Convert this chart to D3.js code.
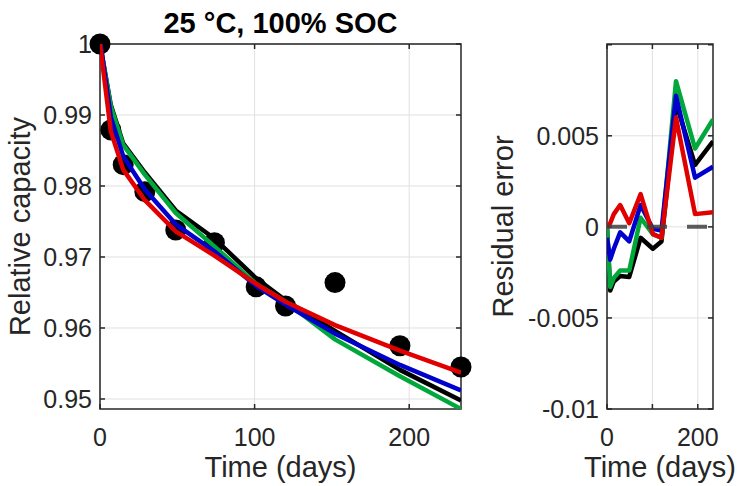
<!DOCTYPE html>
<html>
<head>
<meta charset="utf-8">
<title>25 °C, 100% SOC</title>
<script src="https://cdn.jsdelivr.net/npm/d3@7"></script>
<style>
  body { margin: 0; background: #fff; }
  svg text { font-family: "Liberation Sans", Arial, sans-serif; fill: #262626; }
</style>
</head>
<body>
<div id="chart"></div>
<script>
// measurement days and relative capacity
const days = [0, 7, 15, 29, 49, 74, 101, 120, 152, 194, 233.5];
const measured = [1.0, 0.9879, 0.9830, 0.9792, 0.9738, 0.9720, 0.9658, 0.9631, 0.9664, 0.9575, 0.9545];

// model fits (left panel)
const fitBlack = [1.0, 0.9914, 0.9860, 0.9819, 0.97655, 0.9726, 0.9670, 0.9639, 0.9596, 0.9541, 0.9498];
const fitGreen = [1.0, 0.9912, 0.9858, 0.9816, 0.9762, 0.9715, 0.9662, 0.9637, 0.9584, 0.9532, 0.9486];
const fitBlue  = [1.0006, 0.9897, 0.9842, 0.9795, 0.9746, 0.9708, 0.9659, 0.9633, 0.9592, 0.9548, 0.9512];
const fitRed   = [1.0, 0.9877, 0.9823, 0.9780, 0.9736, 0.9702, 0.9662, 0.9637, 0.9604, 0.9568, 0.9537];

// residuals (right panel)
const resBlack = [0, -0.0035, -0.0030, -0.0027, -0.00275, -0.0006, -0.0012, -0.0008, 0.0068, 0.0034, 0.0047];
const resGreen = [0, -0.0033, -0.0028, -0.0024, -0.0024, 0.0005, -0.0004, -0.0006, 0.0080, 0.0043, 0.0059];
const resBlue  = [-0.0006, -0.0018, -0.0012, -0.0003, -0.0008, 0.0012, -0.0001, -0.0002, 0.0072, 0.0027, 0.0033];
const resRed   = [0, 0.0002, 0.0007, 0.0012, 0.0002, 0.0018, -0.0004, -0.0006, 0.0060, 0.0007, 0.0008];

const xTicks = [0, 100, 200];
const capTicks = [0.95, 0.96, 0.97, 0.98, 0.99, 1];
const capLabels = ["0.95", "0.96", "0.97", "0.98", "0.99", "1"];
const resTicks = [-0.01, -0.005, 0, 0.005, 0.01];
const resLabels = ["-0.01", "-0.005", "0", "0.005", ""];
const resXLabels = ["0", "", "200"];

const colors = ["#000000", "#00a83c", "#0000cc", "#e00000"];

const width = 740, height = 486;
const svg = d3.select("#chart").append("svg")
    .attr("width", width).attr("height", height)
    .style("background", "#fff");

const plotTop = 44, plotBottom = 409;

function panel(opts) {
    const x = d3.scaleLinear().domain([0, 233.5]).range([opts.left, opts.right]);
    const y = d3.scaleLinear().domain(opts.yDomain).range([plotBottom, plotTop]);
    const g = svg.append("g");

    const clipId = "clip" + opts.id;
    svg.append("clipPath").attr("id", clipId)
        .append("rect")
        .attr("x", opts.left).attr("y", plotTop)
        .attr("width", opts.right - opts.left).attr("height", plotBottom - plotTop);

    // grid
    g.append("g").selectAll("line").data(xTicks).join("line")
        .attr("x1", d => x(d)).attr("x2", d => x(d))
        .attr("y1", plotTop).attr("y2", plotBottom)
        .attr("stroke", "#e0e0e0").attr("stroke-width", 1);
    g.append("g").selectAll("line").data(opts.yTicks).join("line")
        .attr("x1", opts.left).attr("x2", opts.right)
        .attr("y1", d => y(d)).attr("y2", d => y(d))
        .attr("stroke", "#e0e0e0").attr("stroke-width", 1);

    // tick labels
    g.append("g").selectAll("text").data(opts.yTicks).join("text")
        .attr("x", opts.left - 8).attr("y", d => y(d) + 9)
        .attr("text-anchor", "end").attr("font-size", 25)
        .text((d, i) => opts.yLabels[i]);
    g.append("g").selectAll("text").data(xTicks).join("text")
        .attr("x", d => x(d)).attr("y", 446)
        .attr("text-anchor", "middle").attr("font-size", 25)
        .text((d, i) => opts.xLabels[i]);

    // axis labels
    g.append("text")
        .attr("x", (opts.left + opts.right) / 2).attr("y", 477)
        .attr("text-anchor", "middle").attr("font-size", 29)
        .text("Time (days)");
    g.append("text")
        .attr("transform", `translate(${opts.yLabelX},${(plotTop + plotBottom) / 2}) rotate(-90)`)
        .attr("text-anchor", "middle").attr("font-size", 29)
        .text(opts.yTitle);

    return { x, y, g, clipId };
}

function frame(p, yTicks, left, right) {
    const g = svg.append("g").attr("stroke", "#262626").attr("stroke-width", 1.5).attr("fill", "none");
    g.append("rect").attr("x", left).attr("y", plotTop)
        .attr("width", right - left).attr("height", plotBottom - plotTop);
    const tl = 5;
    xTicks.forEach(d => {
        g.append("line").attr("x1", p.x(d)).attr("x2", p.x(d)).attr("y1", plotBottom).attr("y2", plotBottom - tl);
        g.append("line").attr("x1", p.x(d)).attr("x2", p.x(d)).attr("y1", plotTop).attr("y2", plotTop + tl);
    });
    yTicks.forEach(d => {
        g.append("line").attr("x1", left).attr("x2", left + tl).attr("y1", p.y(d)).attr("y2", p.y(d));
        g.append("line").attr("x1", right).attr("x2", right - tl).attr("y1", p.y(d)).attr("y2", p.y(d));
    });
}

// ---- left panel ----
const L = panel({
    id: "L", left: 100, right: 461, yDomain: [0.94859, 1.0],
    yTicks: capTicks, yLabels: capLabels, xLabels: xTicks.map(String),
    yTitle: "Relative capacity", yLabelX: 30
});
frame(L, capTicks, 100, 461);

svg.append("g").selectAll("circle").data(days).join("circle")
    .attr("cx", d => L.x(d)).attr("cy", (d, i) => L.y(measured[i]))
    .attr("r", 10.5).attr("fill", "#000");

const fits = [fitBlack, fitGreen, fitBlue, fitRed];
const lineL = d3.line().x((d, i) => L.x(days[i])).y(d => L.y(d));
svg.append("g").attr("clip-path", `url(#${L.clipId})`)
    .selectAll("path").data(fits).join("path")
    .attr("d", lineL).attr("fill", "none")
    .attr("stroke", (d, i) => colors[i]).attr("stroke-width", 4.5)
    .attr("stroke-linejoin", "round");

svg.append("text")
    .attr("x", 280.5).attr("y", 33)
    .attr("text-anchor", "middle").attr("font-size", 29).attr("font-weight", "bold")
    .style("fill", "#000")
    .text("25 °C, 100% SOC");

// ---- right panel ----
const R = panel({
    id: "R", left: 607, right: 713, yDomain: [-0.01, 0.01004],
    yTicks: resTicks, yLabels: resLabels, xLabels: resXLabels,
    yTitle: "Residual error", yLabelX: 513
});
frame(R, resTicks, 607, 713);

const resids = [resBlack, resGreen, resBlue, resRed];
const lineR = d3.line().x((d, i) => R.x(days[i])).y(d => R.y(d));
const rg = svg.append("g").attr("clip-path", `url(#${R.clipId})`);
rg.selectAll("path").data(resids).join("path")
    .attr("d", lineR).attr("fill", "none")
    .attr("stroke", (d, i) => colors[i]).attr("stroke-width", 4.5)
    .attr("stroke-linejoin", "round");

rg.append("line")
    .attr("x1", R.x(0)).attr("x2", R.x(233.5))
    .attr("y1", R.y(0)).attr("y2", R.y(0))
    .attr("stroke", "#404040").attr("stroke-opacity", 0.85)
    .attr("stroke-width", 4).attr("stroke-dasharray", "20,20");
</script>
</body>
</html>
